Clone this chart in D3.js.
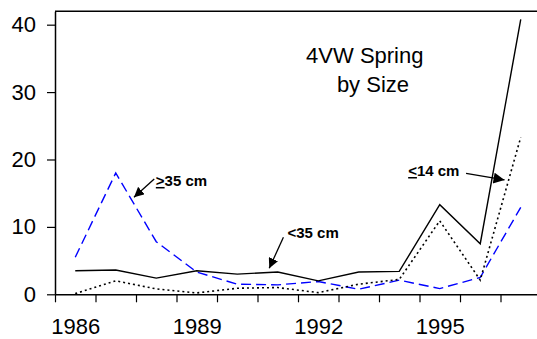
<!DOCTYPE html>
<html>
<head>
<meta charset="utf-8">
<script src="https://cdn.jsdelivr.net/npm/d3@7"></script>
<style>
  html, body { margin: 0; padding: 0; background: #fff; }
  svg { display: block; font-family: Arial, "Liberation Sans", sans-serif; }
</style>
</head>
<body>
<div id="chart"></div>
<script>
// data
const years = [1986, 1987, 1988, 1989, 1990, 1991, 1992, 1993, 1994, 1995, 1996, 1997];
const under35 = [3.5, 3.6, 2.4, 3.5, 3.0, 3.3, 2.0, 3.3, 3.4, 13.3, 7.5, 40.8];
const upTo14 = [0.1, 2.0, 0.8, 0.2, 0.9, 1.0, 0.25, 1.5, 2.2, 10.9, 2.1, 23.3];
const over35 = [5.5, 18.0, 7.8, 3.3, 1.5, 1.4, 1.9, 0.75, 2.1, 0.85, 2.5, 12.9];
const yTicks = [0, 10, 20, 30, 40];
const yearLabels = [1986, 1989, 1992, 1995];

const width = 537;
const height = 339;

const svg = d3.select('#chart')
  .append('svg')
  .attr('width', width)
  .attr('height', height);

// years sit between tick marks, category style
const x = d3.scaleLinear().domain([1985.5, 1997.5]).range([55, 541]);
const y = d3.scaleLinear().domain([0, 42]).range([294.3, 11.2]);

const defs = svg.append('defs');
defs.append('marker')
  .attr('id', 'head')
  .attr('viewBox', '0 0 10 10')
  .attr('refX', 10)
  .attr('refY', 5)
  .attr('markerWidth', 10)
  .attr('markerHeight', 10)
  .attr('markerUnits', 'userSpaceOnUse')
  .attr('orient', 'auto')
  .append('path')
  .attr('d', 'M0,0 L10,5 L0,10 Z')
  .attr('fill', '#000');
defs.append('marker')
  .attr('id', 'headBig')
  .attr('viewBox', '0 0 10 10')
  .attr('refX', 10)
  .attr('refY', 5)
  .attr('markerWidth', 12)
  .attr('markerHeight', 11)
  .attr('markerUnits', 'userSpaceOnUse')
  .attr('orient', 'auto')
  .append('path')
  .attr('d', 'M0,0 L10,5 L0,10 Z')
  .attr('fill', '#000');

// frame: top border
svg.append('line')
  .attr('x1', x(1985.5)).attr('x2', width)
  .attr('y1', y(42)).attr('y2', y(42))
  .attr('stroke', '#000')
  .attr('stroke-width', 1.5);

// axes
const yAxis = d3.axisLeft(y)
  .tickValues(yTicks)
  .tickSize(8)
  .tickPadding(11)
  .tickSizeOuter(0);
const yAxisGroup = svg.append('g')
  .attr('transform', `translate(${x(1985.5)},0)`)
  .call(yAxis);

const tickYears = d3.range(1985.5, 1997, 1);
const xAxis = d3.axisBottom(x)
  .tickValues(tickYears)
  .tickSize(8)
  .tickFormat('')
  .tickSizeOuter(0);
const xAxisGroup = svg.append('g')
  .attr('transform', `translate(0,${y(0)})`)
  .call(xAxis);

const xLabels = d3.axisBottom(x)
  .tickValues(yearLabels)
  .tickSize(0)
  .tickPadding(24)
  .tickFormat(d3.format('d'));
const xLabelGroup = svg.append('g')
  .attr('transform', `translate(0,${y(0)})`)
  .call(xLabels);
xLabelGroup.select('.domain').remove();

[yAxisGroup, xAxisGroup].forEach(g => {
  g.select('.domain').attr('stroke', '#000').attr('stroke-width', 1.5);
  g.selectAll('.tick line').attr('stroke', '#000').attr('stroke-width', 1.2);
});
[yAxisGroup, xLabelGroup].forEach(g => {
  g.selectAll('text')
    .attr('fill', '#000')
    .style('font-size', '22px')
    .style('font-family', 'Arial, "Liberation Sans", sans-serif');
});

// lines
const line = d3.line()
  .x((d, i) => x(years[i]))
  .y(d => y(d));

svg.append('path')
  .datum(over35)
  .attr('fill', 'none')
  .attr('stroke', '#0000ff')
  .attr('stroke-width', 1.4)
  .attr('stroke-dasharray', '10,5')
  .attr('d', line);

svg.append('path')
  .datum(upTo14)
  .attr('fill', 'none')
  .attr('stroke', '#000')
  .attr('stroke-width', 1.6)
  .attr('stroke-dasharray', '2,3')
  .attr('d', line);

svg.append('path')
  .datum(under35)
  .attr('fill', 'none')
  .attr('stroke', '#000')
  .attr('stroke-width', 1.4)
  .attr('d', line);

// title
const title = svg.append('text')
  .attr('fill', '#000')
  .style('font-size', '22px');
title.append('tspan')
  .attr('x', x(1991.7)).attr('y', y(34.3))
  .text('4VW Spring');
title.append('tspan')
  .attr('x', x(1992.46)).attr('y', y(30.0))
  .text('by Size');

// annotations, placed in data space
const notes = [
  {sym: '>', rest: '35 cm', tx: 1987.99, ty: 16.07, x1: 1987.95, y1: 17.1, x2: 1987.45, y2: 14.4, head: 'head'},
  {sym: '', rest: '<35 cm', tx: 1991.24, ty: 8.31, x1: 1991.14, y1: 8.46, x2: 1990.79, y2: 3.86, head: 'head'},
  {sym: '<', rest: '14 cm', tx: 1994.22, ty: 17.55, x1: 1995.65, y1: 17.95, x2: 1996.6, y2: 16.96, head: 'headBig'}
];

notes.forEach(n => {
  const t = svg.append('text')
    .attr('x', x(n.tx))
    .attr('y', y(n.ty))
    .attr('fill', '#000')
    .style('font-size', '15px')
    .style('font-weight', 'bold');
  if (n.sym) {
    t.append('tspan')
      .style('text-decoration', 'underline')
      .text(n.sym);
  }
  t.append('tspan').text(n.rest);

  svg.append('line')
    .attr('x1', x(n.x1)).attr('y1', y(n.y1))
    .attr('x2', x(n.x2)).attr('y2', y(n.y2))
    .attr('stroke', '#000')
    .attr('stroke-width', 1.3)
    .attr('marker-end', `url(#${n.head})`);
});
</script>
</body>
</html>
